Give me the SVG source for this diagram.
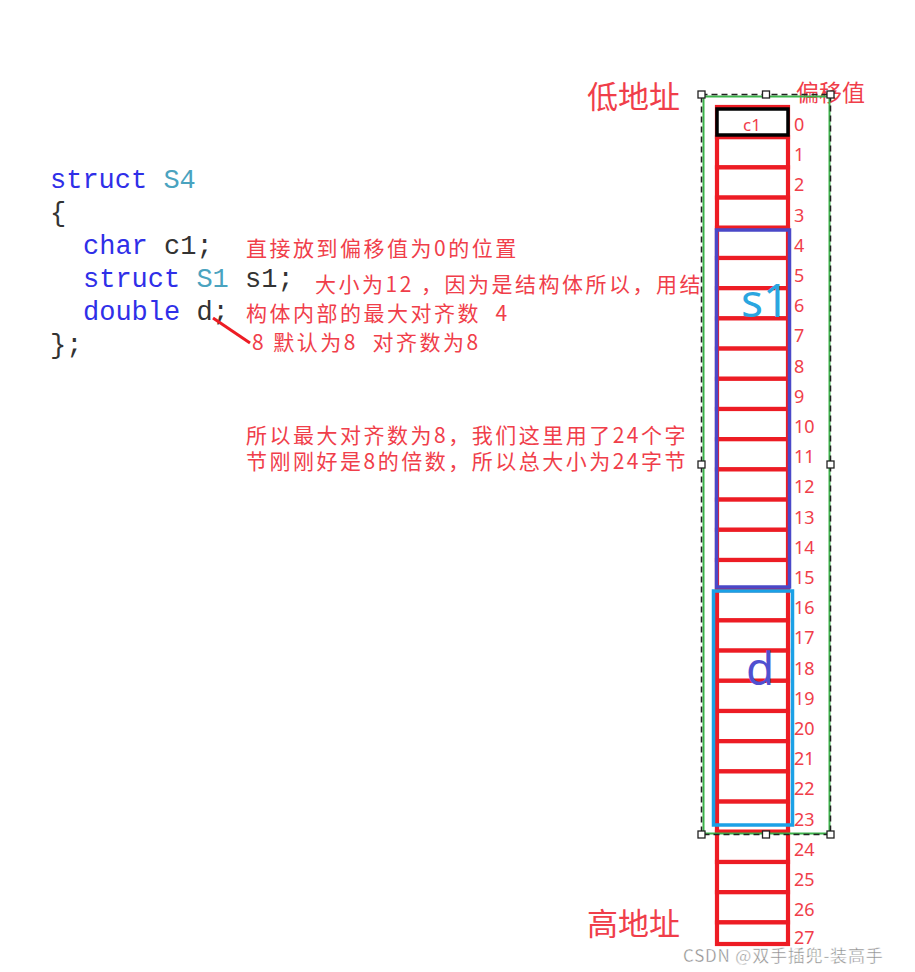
<svg xmlns="http://www.w3.org/2000/svg" width="915" height="972" viewBox="0 0 915 972">
<style>
.code{font-family:"Liberation Mono","DejaVu Sans Mono",monospace;font-size:27px;fill:#333}
.kw{fill:#2f2fe8}
.ty{fill:#4aa3bf}
.note{font-family:"Noto Sans CJK SC","Noto Sans",sans-serif;font-size:21px;fill:#f03e4a;letter-spacing:2.5px;white-space:pre}
.big{font-family:"Noto Sans CJK SC","Noto Sans",sans-serif;font-size:31px;fill:#f03e4a}
.off{font-family:"Noto Sans","Noto Sans CJK SC",sans-serif;font-size:18px;fill:#f03e4a}
.cell{fill:#fff;stroke:#ed1c24;stroke-width:4.2}
.h{fill:#fff;stroke:#222;stroke-width:1.3}
</style>
<rect width="915" height="972" fill="#fff"/>
<g id="code">
<text class="code" x="50" y="188"><tspan class="kw">struct</tspan> <tspan class="ty">S4</tspan></text>
<text class="code" x="50" y="221">{</text>
<text class="code" x="83" y="254"><tspan class="kw">char</tspan> c1;</text>
<text class="code" x="83" y="287"><tspan class="kw">struct</tspan> <tspan class="ty">S1</tspan> s1;</text>
<text class="code" x="83" y="320"><tspan class="kw">double</tspan> d;</text>
<text class="code" x="50" y="353">};</text>
</g>
<g id="notes">
<text class="note" x="246" y="256">直接放到偏移值为0的位置</text>
<text class="note" x="315" y="292">大小为12 ，因为是结构体所以，用结</text>
<text class="note" x="246" y="321" xml:space="preserve">构体内部的最大对齐数  4</text>
<text class="note" x="252" y="350" xml:space="preserve">8 默认为8  对齐数为8</text>
<text class="note" x="246" y="443">所以最大对齐数为8，我们这里用了24个字</text>
<text class="note" x="246" y="469">节刚刚好是8的倍数，所以总大小为24字节</text>
</g>
<g id="connectors">
<line x1="213" y1="318" x2="250" y2="343" stroke="#ed1c24" stroke-width="3"/>
</g>
<g id="address-labels">
<text class="big" x="587" y="108">低地址</text>
<text class="big" x="587" y="935">高地址</text>
<text x="796" y="101" font-family="Noto Sans CJK SC,sans-serif" font-size="23" fill="#f03e4a">偏移值</text>
</g>
<g id="cells">
<rect class="cell" x="717" y="107" width="71" height="30.2"/>
<rect class="cell" x="717" y="137.2" width="71" height="30.2"/>
<rect class="cell" x="717" y="167.4" width="71" height="30.2"/>
<rect class="cell" x="717" y="197.6" width="71" height="30.2"/>
<rect class="cell" x="717" y="227.8" width="71" height="30.2"/>
<rect class="cell" x="717" y="258" width="71" height="30.2"/>
<rect class="cell" x="717" y="288.2" width="71" height="30.2"/>
<rect class="cell" x="717" y="318.4" width="71" height="30.2"/>
<rect class="cell" x="717" y="348.6" width="71" height="30.2"/>
<rect class="cell" x="717" y="378.8" width="71" height="30.2"/>
<rect class="cell" x="717" y="409" width="71" height="30.2"/>
<rect class="cell" x="717" y="439.2" width="71" height="30.2"/>
<rect class="cell" x="717" y="469.4" width="71" height="30.2"/>
<rect class="cell" x="717" y="499.6" width="71" height="30.2"/>
<rect class="cell" x="717" y="529.8" width="71" height="30.2"/>
<rect class="cell" x="717" y="560" width="71" height="30.2"/>
<rect class="cell" x="717" y="590.2" width="71" height="30.2"/>
<rect class="cell" x="717" y="620.4" width="71" height="30.2"/>
<rect class="cell" x="717" y="650.6" width="71" height="30.2"/>
<rect class="cell" x="717" y="680.8" width="71" height="30.2"/>
<rect class="cell" x="717" y="711" width="71" height="30.2"/>
<rect class="cell" x="717" y="741.2" width="71" height="30.2"/>
<rect class="cell" x="717" y="771.4" width="71" height="30.2"/>
<rect class="cell" x="717" y="801.6" width="71" height="30.2"/>
<rect class="cell" x="717" y="831.8" width="71" height="30.2"/>
<rect class="cell" x="717" y="862" width="71" height="30.2"/>
<rect class="cell" x="717" y="892.2" width="71" height="30.2"/>
<rect class="cell" x="717" y="922.4" width="71" height="21.6"/>
</g>
<g id="c1">
<rect x="717" y="109" width="71" height="26" fill="#fff" stroke="#000" stroke-width="3.5"/>
<text x="752" y="131" text-anchor="middle" font-family="Noto Sans,sans-serif" font-size="17" fill="#f03e4a">c1</text>
</g>
<g id="s1">
<rect x="716.5" y="230" width="73" height="357" fill="none" stroke="#4a48c8" stroke-width="3.5"/>
<text x="741" y="317" font-family="Noto Sans,sans-serif" font-size="46" fill="#2aa6e0">s1</text>
</g>
<g id="d">
<rect x="713.5" y="591" width="79" height="234" fill="none" stroke="#1ba1e6" stroke-width="3.5"/>
<text x="746" y="685" font-family="Noto Sans,sans-serif" font-size="46" fill="#5050d0">d</text>
</g>
<g id="offsets">
<text class="off" x="794" y="131">0</text>
<text class="off" x="794" y="161.2">1</text>
<text class="off" x="794" y="191.4">2</text>
<text class="off" x="794" y="221.6">3</text>
<text class="off" x="794" y="251.8">4</text>
<text class="off" x="794" y="282">5</text>
<text class="off" x="794" y="312.2">6</text>
<text class="off" x="794" y="342.4">7</text>
<text class="off" x="794" y="372.6">8</text>
<text class="off" x="794" y="402.8">9</text>
<text class="off" x="794" y="433">10</text>
<text class="off" x="794" y="463.2">11</text>
<text class="off" x="794" y="493.4">12</text>
<text class="off" x="794" y="523.6">13</text>
<text class="off" x="794" y="553.8">14</text>
<text class="off" x="794" y="584">15</text>
<text class="off" x="794" y="614.2">16</text>
<text class="off" x="794" y="644.4">17</text>
<text class="off" x="794" y="674.6">18</text>
<text class="off" x="794" y="704.8">19</text>
<text class="off" x="794" y="735">20</text>
<text class="off" x="794" y="765.2">21</text>
<text class="off" x="794" y="795.4">22</text>
<text class="off" x="794" y="825.6">23</text>
<text class="off" x="794" y="855.8">24</text>
<text class="off" x="794" y="886">25</text>
<text class="off" x="794" y="916.2">26</text>
<text class="off" x="794" y="944">27</text>
</g>
<g id="selection">
<rect x="703.5" y="96.5" width="126" height="737" fill="none" stroke="#3cb44b" stroke-width="2"/>
<rect x="701.5" y="94.5" width="129" height="740" fill="none" stroke="#222" stroke-width="1.5" stroke-dasharray="6,4"/>
<rect class="h" x="698" y="91" width="7" height="7"/>
<rect class="h" x="762.5" y="91" width="7" height="7"/>
<rect class="h" x="827" y="91" width="7" height="7"/>
<rect class="h" x="698" y="461" width="7" height="7"/>
<rect class="h" x="827" y="461" width="7" height="7"/>
<rect class="h" x="698" y="831" width="7" height="7"/>
<rect class="h" x="762.5" y="831" width="7" height="7"/>
<rect class="h" x="827" y="831" width="7" height="7"/>
</g>
<g id="watermark">
<text x="683" y="962" font-family="Noto Sans CJK SC,Noto Sans,sans-serif" font-size="17" fill="#8a8a8a" stroke="#fff" stroke-width="0.4" letter-spacing="0.8">CSDN @双手插兜-装高手</text>
</g>
</svg>
